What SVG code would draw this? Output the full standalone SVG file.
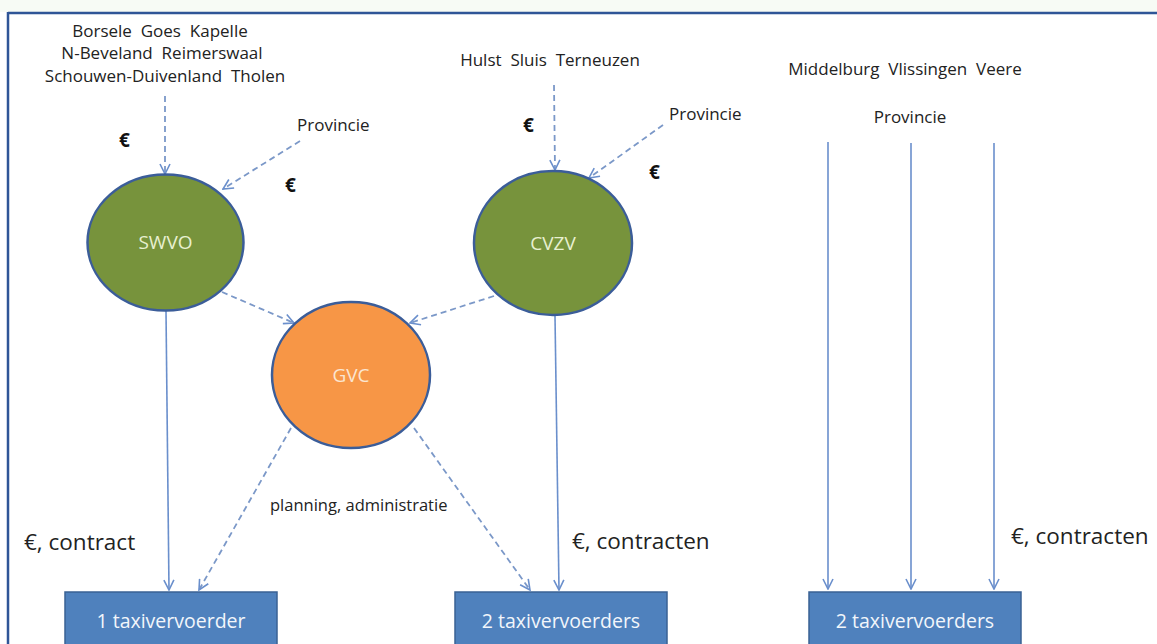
<svg xmlns="http://www.w3.org/2000/svg" width="1157" height="644" viewBox="0 0 1157 644">
<defs>
<style>
text{font-family:"Open Sans","Liberation Sans",sans-serif;fill:#222}
.t{font-size:17px}
.eur{font-size:19px;font-weight:bold;fill:#111}
.big{font-size:22.5px}
.sol{stroke:#6a8fcc;stroke-width:1.6;fill:none}
.dash{stroke:#7b98c8;stroke-width:1.8;fill:none;stroke-dasharray:6 4}
.circ{stroke:#3b5d99;stroke-width:2.5}
.box{fill:#4f81bd;stroke:#3a6294;stroke-width:1.5}
.lab{font-size:19px;fill:#e8f0d0;text-anchor:middle}
.blab{font-size:19.5px;fill:#f2f6fb;text-anchor:middle}
</style>
<marker id="ah" viewBox="0 0 12 12" refX="11" refY="6" markerWidth="12" markerHeight="12" markerUnits="userSpaceOnUse" orient="auto">
<path d="M1,1 L11,6 L1,11" fill="none" stroke="#6a8fcc" stroke-width="1.6"/>
</marker>
</defs>
<rect width="1157" height="644" fill="#ffffff"/>
<rect width="1157" height="12" fill="#f7fbf5"/>
<g id="frame">
<line x1="8" y1="13" x2="1157" y2="13" stroke="#2f5597" stroke-width="2.5"/>
<line x1="8" y1="12" x2="8" y2="644" stroke="#2f5597" stroke-width="2.5"/>
</g>
<g id="connectors">
<line class="dash" x1="165" y1="96" x2="165" y2="174" marker-end="url(#ah)"/>
<line class="dash" x1="300" y1="141" x2="223" y2="189" marker-end="url(#ah)"/>
<line class="dash" x1="554" y1="85" x2="555" y2="170" marker-end="url(#ah)"/>
<line class="dash" x1="663" y1="125" x2="589" y2="178" marker-end="url(#ah)"/>
<line class="dash" x1="222" y1="292" x2="294" y2="323" marker-end="url(#ah)"/>
<line class="dash" x1="494" y1="296" x2="410" y2="323" marker-end="url(#ah)"/>
<line class="sol" x1="166" y1="311" x2="169" y2="590" marker-end="url(#ah)"/>
<line class="dash" x1="291" y1="428" x2="199" y2="590" marker-end="url(#ah)"/>
<line class="dash" x1="414" y1="428" x2="530" y2="590" marker-end="url(#ah)"/>
<line class="sol" x1="555" y1="316" x2="559" y2="590" marker-end="url(#ah)"/>
<line class="sol" x1="828" y1="142" x2="828" y2="589" marker-end="url(#ah)"/>
<line class="sol" x1="911" y1="143" x2="911" y2="589" marker-end="url(#ah)"/>
<line class="sol" x1="994" y1="143" x2="994" y2="589" marker-end="url(#ah)"/>
</g>
<g id="labels">
<text class="t" x="160" y="37" text-anchor="middle" xml:space="preserve">Borsele  Goes  Kapelle</text>
<text class="t" x="162" y="59" text-anchor="middle" xml:space="preserve">N-Beveland  Reimerswaal</text>
<text class="t" x="165" y="82" text-anchor="middle" xml:space="preserve">Schouwen-Duivenland  Tholen</text>
<text class="eur" x="119" y="147">€</text>
<text class="t" x="297" y="131">Provincie</text>
<text class="eur" x="285" y="192">€</text>
<text class="t" x="550" y="66" text-anchor="middle" xml:space="preserve">Hulst  Sluis  Terneuzen</text>
<text class="eur" x="523" y="132">€</text>
<text class="t" x="669" y="120">Provincie</text>
<text class="eur" x="649" y="179">€</text>
<text class="t" x="905" y="75" text-anchor="middle" xml:space="preserve">Middelburg  Vlissingen  Veere</text>
<text class="t" x="910" y="123" text-anchor="middle">Provincie</text>
<text x="270" y="511" style="font-size:16.5px">planning, administratie</text>
<text class="big" x="24" y="550">€, contract</text>
<text class="big" x="572" y="549">€, contracten</text>
<text class="big" x="1011" y="544">€, contracten</text>
</g>
<g id="swvo">
<ellipse class="circ" cx="165.5" cy="242.5" rx="78" ry="68" fill="#77933c"/>
<text class="lab" x="165.5" y="249">SWVO</text>
</g>
<g id="cvzv">
<ellipse class="circ" cx="553" cy="243" rx="79" ry="72" fill="#77933c"/>
<text class="lab" x="553" y="250">CVZV</text>
</g>
<g id="gvc">
<ellipse class="circ" cx="351" cy="375" rx="79" ry="73" fill="#f79646"/>
<text class="lab" x="351" y="382" style="fill:#fbe5d0">GVC</text>
</g>
<g id="box1">
<rect class="box" x="65" y="592" width="212" height="60"/>
<text class="blab" x="171" y="628">1 taxivervoerder</text>
</g>
<g id="box2">
<rect class="box" x="455" y="592" width="212" height="60"/>
<text class="blab" x="561" y="628">2 taxivervoerders</text>
</g>
<g id="box3">
<rect class="box" x="809" y="592" width="212" height="60"/>
<text class="blab" x="915" y="628">2 taxivervoerders</text>
</g>
</svg>
